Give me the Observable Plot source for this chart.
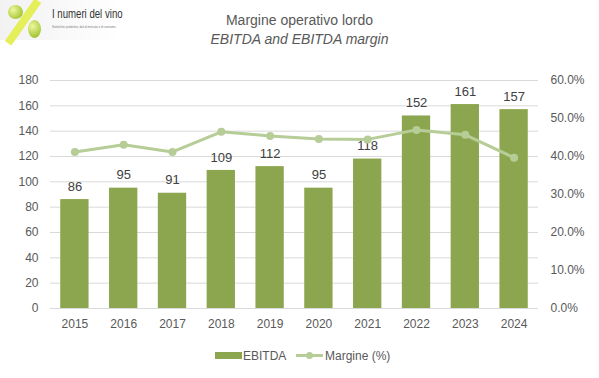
<!DOCTYPE html>
<html><head><meta charset="utf-8">
<script src="https://cdn.jsdelivr.net/npm/d3@7"></script>
<script src="https://cdn.jsdelivr.net/npm/@observablehq/plot@0.6"></script>
<style>
body{margin:0;background:#fff;font-family:"Liberation Sans",Arial,sans-serif;}
#wrap{position:relative;width:599px;height:378px;overflow:hidden;}
#logo{position:absolute;left:0;top:0;width:122px;height:40px;background:linear-gradient(90deg,#f2f2f2,#ffffff);}
.grape{position:absolute;border-radius:50%;background:radial-gradient(circle at 35% 35%,#eef7a0,#a9c93a 70%,#8aa82a);}
#slash{position:absolute;left:19px;top:-4px;width:8px;height:52px;background:#e4ef5a;transform:rotate(35deg);}
#ltxt{position:absolute;left:52px;top:6px;font-family:"Liberation Sans",sans-serif;font-size:13px;color:#333;white-space:nowrap;transform:scaleX(0.74);transform-origin:left top;}
#lsub{position:absolute;left:52px;top:24px;font-size:4px;color:#777;white-space:nowrap;transform:scaleX(0.7);transform-origin:left top;}
#title{position:absolute;left:0;width:599px;top:12px;text-align:center;font-size:14px;color:#595959;}
#sub{position:absolute;left:0;width:599px;top:31px;text-align:center;font-size:14px;font-style:italic;color:#595959;}
#chart{position:absolute;left:0;top:60px;}
#legend{position:absolute;top:347px;left:0;width:599px;font-size:12px;color:#595959;}
</style></head>
<body><div id="wrap">
<div id="logo">
  <div id="slash"></div>
  <div class="grape" style="left:8px;top:5px;width:15px;height:14px;"></div>
  <div class="grape" style="left:28px;top:20px;width:13px;height:18px;"></div>
  <div id="ltxt">I numeri del vino</div>
  <div id="lsub">Statistiche produttive, dati di mercato e di consumo.</div>
</div>
<div id="title">Margine operativo lordo</div>
<div id="sub">EBITDA and EBITDA margin</div>
<div id="chart"></div>
<div id="legend"></div>
</div>
<script>
const years = ["2015","2016","2017","2018","2019","2020","2021","2022","2023","2024"];
const ebitda = [86,95,91,109,112,95,118,152,161,157];
const margin = [41.2,43.1,41.2,46.5,45.4,44.6,44.5,47.0,45.7,39.7];
const leftTicks = [0,20,40,60,80,100,120,140,160,180];
const rightTicks = [0,10,20,30,40,50,60];

const barColor = "#8BA64E";
const lineColor = "#B6CD97";
const k = 3; // 60% maps to 180

const data = years.map((y,i)=>({year:y, ebitda:ebitda[i], margin:margin[i]}));

const chart = Plot.plot({
  width:599, height:275,
  marginLeft:50, marginRight:61, marginTop:20, marginBottom:27,
  style:{fontFamily:"Liberation Sans, Arial, sans-serif", fontSize:"12px", color:"#595959"},
  x:{domain:years, paddingInner:0.42, paddingOuter:0.21, round:false, label:null},
  y:{domain:[0,180], label:null},
  marks:[
    Plot.gridY(leftTicks,{stroke:"#d9d9d9", strokeOpacity:1}),
    Plot.axisY(leftTicks,{anchor:"left", tickSize:0, tickPadding:12, label:null, fontSize:12}),
    Plot.axisY(rightTicks.map(d=>d*k),{anchor:"right", tickSize:0, tickPadding:12, label:null, fontSize:12, textAnchor:"start", tickFormat:d=>(d/k).toFixed(1)+"%"}),
    Plot.axisX({tickSize:0, tickPadding:11, label:null, fontSize:12}),
    Plot.barY(data,{x:"year", y:"ebitda", fill:barColor}),
    Plot.text(data,{x:"year", y:"ebitda", text:d=>String(d.ebitda), dy:-13, fontSize:13, fill:"#404040"}),
    Plot.line(data,{x:"year", y:d=>d.margin*k, stroke:lineColor, strokeWidth:3}),
    Plot.dot(data,{x:"year", y:d=>d.margin*k, fill:lineColor, r:4})
  ]
});
document.getElementById("chart").appendChild(chart);

const leg = document.getElementById("legend");
leg.innerHTML = `<svg width="599" height="20" style="font-family:Liberation Sans, Arial, sans-serif;font-size:12px">
  <rect x="215" y="5" width="27" height="7" fill="${barColor}"></rect>
  <text x="243" y="13" fill="#595959">EBITDA</text>
  <line x1="296" y1="8.5" x2="323" y2="8.5" stroke="${lineColor}" stroke-width="3"></line>
  <circle cx="309.5" cy="8.5" r="3.5" fill="${lineColor}"></circle>
  <text x="325" y="13" fill="#595959">Margine (%)</text>
</svg>`;
</script>
</body></html>
